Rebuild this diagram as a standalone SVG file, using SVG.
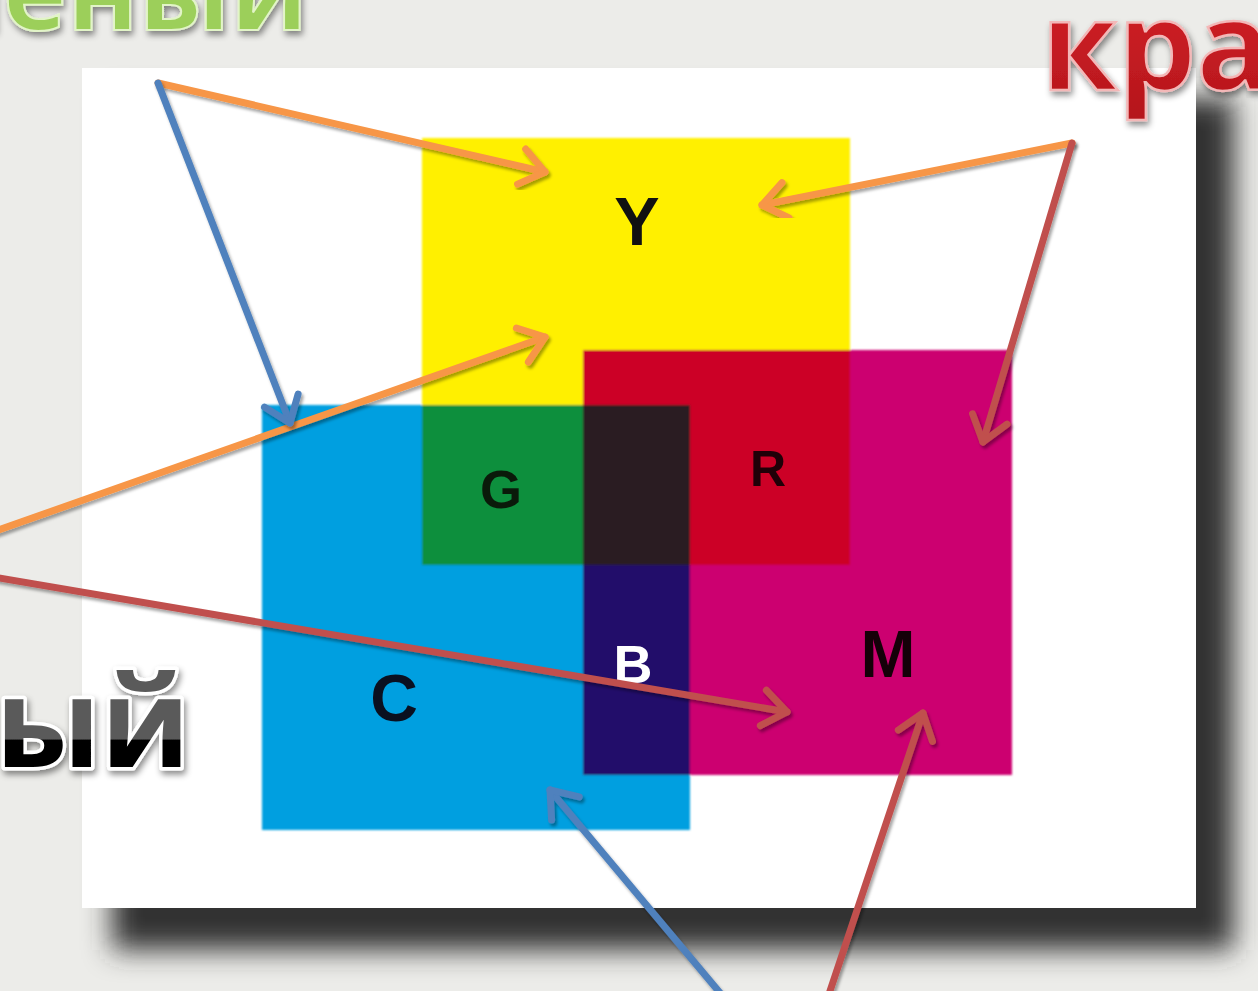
<svg xmlns="http://www.w3.org/2000/svg" width="1258" height="991" viewBox="0 0 1258 991">
<style>
.conn{fill:none;stroke-width:7;stroke-linecap:round;filter:url(#sh)}
.or{stroke:#f79646}
.bl{stroke:#4f81bd}
.rd{stroke:#c0504d}
.lbl{font-family:"Liberation Sans",Arial,sans-serif;font-weight:bold;text-anchor:middle}
.big{font-family:"Open Sans","Noto Sans",sans-serif;font-weight:bold}
</style>
<defs>
<filter id="sh" x="-20%" y="-20%" width="140%" height="140%">
<feDropShadow dx="2" dy="3" stdDeviation="1.5" flood-color="#000" flood-opacity="0.35"/>
</filter>
<filter id="fshadow" x="-10%" y="-10%" width="130%" height="130%">
<feGaussianBlur stdDeviation="14"/>
</filter>
<filter id="tsh" x="-20%" y="-20%" width="140%" height="150%">
<feDropShadow dx="2" dy="4" stdDeviation="3" flood-color="#000" flood-opacity="0.45"/>
</filter>
<filter id="soft"><feGaussianBlur stdDeviation="0.8"/></filter>
<linearGradient id="blk" x1="0" y1="0" x2="0" y2="1">
<stop offset="0" stop-color="#5a5a5a"/><stop offset="0.62" stop-color="#5a5a5a"/><stop offset="0.63" stop-color="#000"/><stop offset="1" stop-color="#000"/>
</linearGradient>
<linearGradient id="redg" x1="0" y1="0" x2="0" y2="1">
<stop offset="0" stop-color="#d9242a"/><stop offset="1" stop-color="#b3151b"/>
</linearGradient>
<marker id="mo" viewBox="-40 -30 50 60" refX="0" refY="0" markerWidth="50" markerHeight="60" markerUnits="userSpaceOnUse" orient="auto">
<path d="M-24,-18 L0,0 L-24,18" fill="none" stroke="#f79646" stroke-width="7" stroke-linecap="round" stroke-linejoin="round"/>
</marker>
<marker id="mb" viewBox="-40 -30 50 60" refX="0" refY="0" markerWidth="50" markerHeight="60" markerUnits="userSpaceOnUse" orient="auto">
<path d="M-24,-18 L0,0 L-24,18" fill="none" stroke="#4f81bd" stroke-width="7" stroke-linecap="round" stroke-linejoin="round"/>
</marker>
<marker id="mr" viewBox="-40 -30 50 60" refX="0" refY="0" markerWidth="50" markerHeight="60" markerUnits="userSpaceOnUse" orient="auto">
<path d="M-24,-18 L0,0 L-24,18" fill="none" stroke="#c0504d" stroke-width="7" stroke-linecap="round" stroke-linejoin="round"/>
</marker>
</defs>

<!-- background -->
<rect x="0" y="0" width="1258" height="991" fill="#ecece9"/>

<!-- picture frame -->
<g id="frame">
<rect x="112" y="98" width="1122" height="852" fill="#303030" filter="url(#fshadow)"/>
<rect x="82" y="68" width="1114" height="840" fill="#ffffff"/>
</g>

<!-- colour squares -->
<g id="squares" filter="url(#soft)">
<g id="yellow"><rect x="422" y="138" width="428" height="427" fill="#fff000"/></g>
<g id="magenta"><rect x="583" y="350" width="429" height="425" fill="#cc0070"/></g>
<g id="cyan"><rect x="262" y="405" width="428" height="425" fill="#009fe0"/></g>
<g id="red"><rect x="583" y="350" width="267" height="215" fill="#cc0027"/></g>
<g id="green"><rect x="422" y="405" width="161" height="160" fill="#0a8f3e"/></g>
<g id="black"><rect x="583" y="405" width="107" height="160" fill="#2b1d22"/></g>
<g id="blue"><rect x="583" y="565" width="107" height="210" fill="#22116a"/></g>
</g>

<!-- letters -->
<g id="labels">
<text class="lbl" x="637" y="245" font-size="68" fill="#111">Y</text>
<text class="lbl" x="501" y="508" font-size="54" fill="#0a1a0a">G</text>
<text class="lbl" x="768" y="486" font-size="50" fill="#200008">R</text>
<text class="lbl" x="633" y="683" font-size="54" fill="#ffffff">B</text>
<text class="lbl" x="394" y="721" font-size="66" fill="#0a1020">C</text>
<text class="lbl" x="888" y="677" font-size="66" fill="#150008">M</text>
</g>

<!-- slide titles -->
<g id="title-green">
<text class="big" x="308" y="30" font-size="108" text-anchor="end" fill="#9ccf5a" stroke="#e2f4c8" stroke-width="2" filter="url(#tsh)">Зелёный</text>
</g>
<g id="title-red">
<text class="big" x="1041" y="90" font-size="124" fill="url(#redg)" stroke="#f3b8b8" stroke-width="2.5" filter="url(#tsh)">красный</text>
</g>
<g id="title-black">
<text class="big" x="190" y="767" font-size="124" text-anchor="end" fill="url(#blk)" stroke="#ffffff" stroke-width="7" paint-order="stroke" stroke-linejoin="round" filter="url(#tsh)">Чёрный</text>
</g>

<!-- connectors -->
<g id="connectors">
<line class="conn or" x1="158" y1="83" x2="545" y2="172" marker-end="url(#mo)"/>
<line class="conn or" x1="1072" y1="143" x2="762" y2="205" marker-end="url(#mo)"/>
<line class="conn or" x1="-30" y1="540" x2="545" y2="337" marker-end="url(#mo)"/>
<line class="conn bl" x1="158" y1="83" x2="290" y2="423" marker-end="url(#mb)"/>
<line class="conn bl" x1="-30" y1="563" x2="367" y2="563" marker-end="url(#mb)"/>
<line class="conn bl" x1="726" y1="1000" x2="550" y2="790" marker-end="url(#mb)"/>
<line class="conn rd" x1="1072" y1="143" x2="983" y2="442" marker-end="url(#mr)"/>
<line class="conn rd" x1="-30" y1="573" x2="787" y2="712" marker-end="url(#mr)"/>
<line class="conn rd" x1="827" y1="1000" x2="923" y2="713" marker-end="url(#mr)"/>
</g>
</svg>
